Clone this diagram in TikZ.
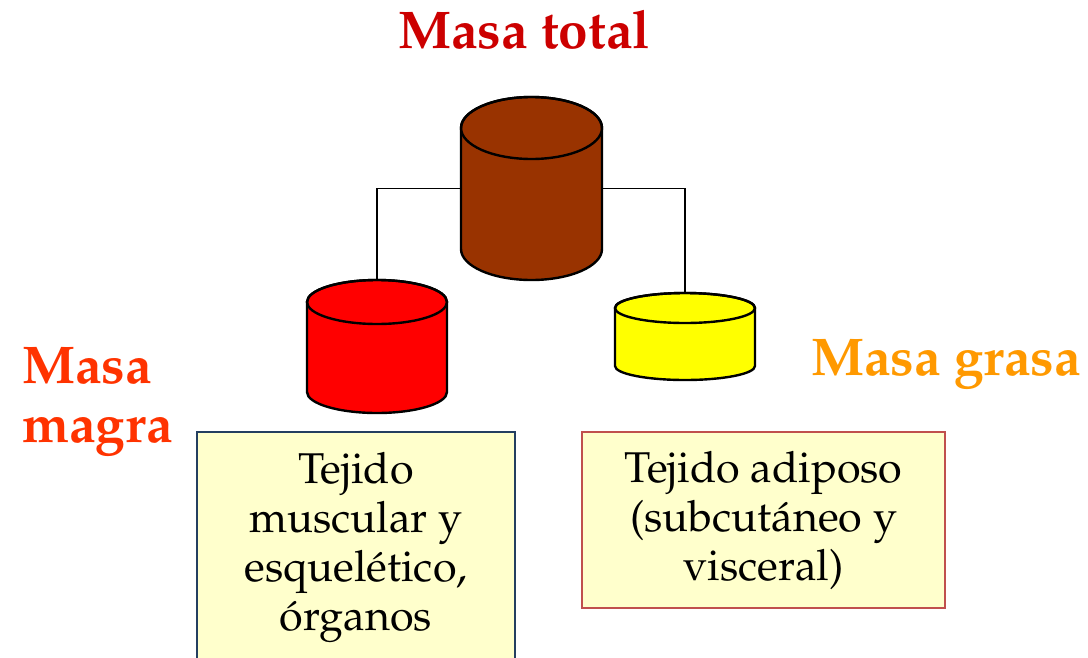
\documentclass[tikz,border=0pt]{standalone}
\usepackage[T1]{fontenc}
\usepackage{mathpazo}

\definecolor{totred}{HTML}{CC0000}
\definecolor{magred}{HTML}{FF3300}
\definecolor{graorange}{HTML}{FF9900}
\definecolor{barbrown}{HTML}{993300}
\definecolor{barred}{HTML}{FF0000}
\definecolor{baryellow}{HTML}{FFFF00}
\definecolor{boxfill}{HTML}{FFFFCC}
\definecolor{boxblue}{HTML}{243F60}
\definecolor{boxrose}{HTML}{C0504D}

\begin{document}
\begin{tikzpicture}[x=0.75pt, y=-0.75pt]
\useasboundingbox (0,0) rectangle (1088,657);

% cylinders
\begin{scope}[line width=1.8pt]
\filldraw[fill=barbrown] (461,128) -- (461,249) arc[start angle=180, end angle=0, x radius=70.5, y radius=31]
  -- (602,128) arc[start angle=0, end angle=-180, x radius=70.5, y radius=31] -- cycle;
\draw (531.5,128) ellipse[x radius=70.5, y radius=31];
\filldraw[fill=barred] (307,302) -- (307,392) arc[start angle=180, end angle=0, x radius=70, y radius=21]
  -- (447,302) arc[start angle=0, end angle=-180, x radius=70, y radius=22] -- cycle;
\draw (377,302) ellipse[x radius=70, y radius=22];
\filldraw[fill=baryellow] (615,308) -- (615,366) arc[start angle=180, end angle=0, x radius=70, y radius=14]
  -- (755,308) arc[start angle=0, end angle=-180, x radius=70, y radius=15] -- cycle;
\draw (685,308) ellipse[x radius=70, y radius=15];
\end{scope}

\begin{scope}[every node/.style={inner sep=0pt, outer sep=0pt, anchor=north, minimum width=105pt}]
\node (tot) at (531.5,97) [minimum height=137.25pt] {};
\node (mag) at (377,280) [minimum height=100pt] {};
\node (gra) at (685,293) [minimum height=65pt] {};
\end{scope}
\begin{scope}[line width=1.3pt]
\draw (tot) -| (mag);
\draw (tot) -| (gra);
\end{scope}

\begin{scope}[every node/.style={font=\fontsize{39.8}{43.8}\selectfont\bfseries, anchor=base west, inner sep=0pt}]
\node (ttot) at (398,48) [text=totred] {Masa total};
\node (tmag) at (22,442) [text=magred, align=left] {Masa\\magra};
\node (tgra) at (811,375) [text=graorange] {Masa grasa};
\end{scope}

\begin{scope}[every node/.style={draw, fill=boxfill, line width=1.5pt, anchor=north,
    font=\fontsize{32.3}{36.75}\selectfont, align=center, inner sep=0pt}]
\node (bmag) at (356,431) [draw=boxblue, minimum width=238.5pt, minimum height=172.5pt]
  {Tejido\\muscular y\\esquel\'etico,\\\'organos};
\node (bgra) at (763.5,431) [draw=boxrose, minimum width=272.25pt, minimum height=132pt]
  {Tejido adiposo\\(subcut\'aneo y\\visceral)};
\end{scope}

\end{tikzpicture}
\end{document}
